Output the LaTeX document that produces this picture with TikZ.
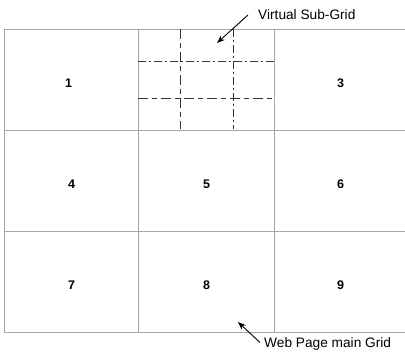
\documentclass[tikz,border=0pt]{standalone}
\usepackage{fontspec}
\setmainfont{Liberation Sans}
\usetikzlibrary{arrows.meta}
\begin{document}
\begin{tikzpicture}[x=1pt,y=-1pt,
  cell/.style={draw=gray!70, line width=1.3pt, rectangle, anchor=north west,
    inner sep=0pt, text depth=0pt, font=\fontsize{12.5}{14}\selectfont\bfseries},
  num/.style={yshift=-3pt},
  subline/.style={draw=black!80, line width=0.9pt},
  dashdot/.style={dash pattern=on 8pt off 3pt on 2pt off 3pt},
  longshort/.style={dash pattern=on 10pt off 4pt on 5pt off 4pt},
  callout/.style={font=\fontsize{13.7}{16}\selectfont, anchor=west, inner sep=0pt},
  pointer/.style={draw=black, line width=0.9pt, -{Stealth[length=8pt,width=6pt]}}]
\useasboundingbox (0,0) rectangle (405,353);
% main 3x3 grid
\node[cell, minimum width=134pt, minimum height=101pt] (c1) at (4,29) {};
\node[cell, minimum width=136pt, minimum height=101pt] (c2) at (138,29) {};
\node[cell, minimum width=132pt, minimum height=101pt] (c3) at (274,29) {};
\node[cell, minimum width=134pt, minimum height=101pt] (c4) at (4,130) {};
\node[cell, minimum width=136pt, minimum height=101pt] (c5) at (138,130) {};
\node[cell, minimum width=132pt, minimum height=101pt] (c6) at (274,130) {};
\node[cell, minimum width=134pt, minimum height=101pt] (c7) at (4,231) {};
\node[cell, minimum width=136pt, minimum height=101pt] (c8) at (138,231) {};
\node[cell, minimum width=132pt, minimum height=101pt] (c9) at (274,231) {};
% cell numbers
\foreach \c/\t/\dx in {c1/1/-3,c3/3/0,c4/4/0,c5/5/0,c6/6/0,c7/7/0,c8/8/0,c9/9/0}
  \node[num, xshift=\dx pt, font=\fontsize{12.5}{14}\selectfont\bfseries] (n\t) at (\c.center) {\t};
% virtual sub-grid inside cell 2
\coordinate (v1t) at (180,29);  \coordinate (v1b) at (180,129);
\coordinate (v2t) at (233,29);  \coordinate (v2b) at (233,129);
\coordinate (h1l) at (138,61);  \coordinate (h1r) at (276,61);
\coordinate (h2l) at (138,98);  \coordinate (h2r) at (276,98);
\draw[subline, longshort] (v1t) -- (v1b);
\draw[subline, dashdot] (v2t) -- (v2b);
\draw[subline, dashdot] (h1l) -- (h1r);
\draw[subline, longshort] (h2l) -- (h2r);
% callouts
\node[callout] (lsub) at (258,15) {Virtual Sub-Grid};
\coordinate (tsub) at (217,43);
\draw[pointer] ([xshift=-10pt]lsub.west) -- (tsub);
\node[callout] (lmain) at (264,343.5) {Web Page main Grid};
\coordinate (tmain) at (238,322);
\draw[pointer] ([xshift=-4pt,yshift=1pt]lmain.west) -- (tmain);
\end{tikzpicture}
\end{document}
